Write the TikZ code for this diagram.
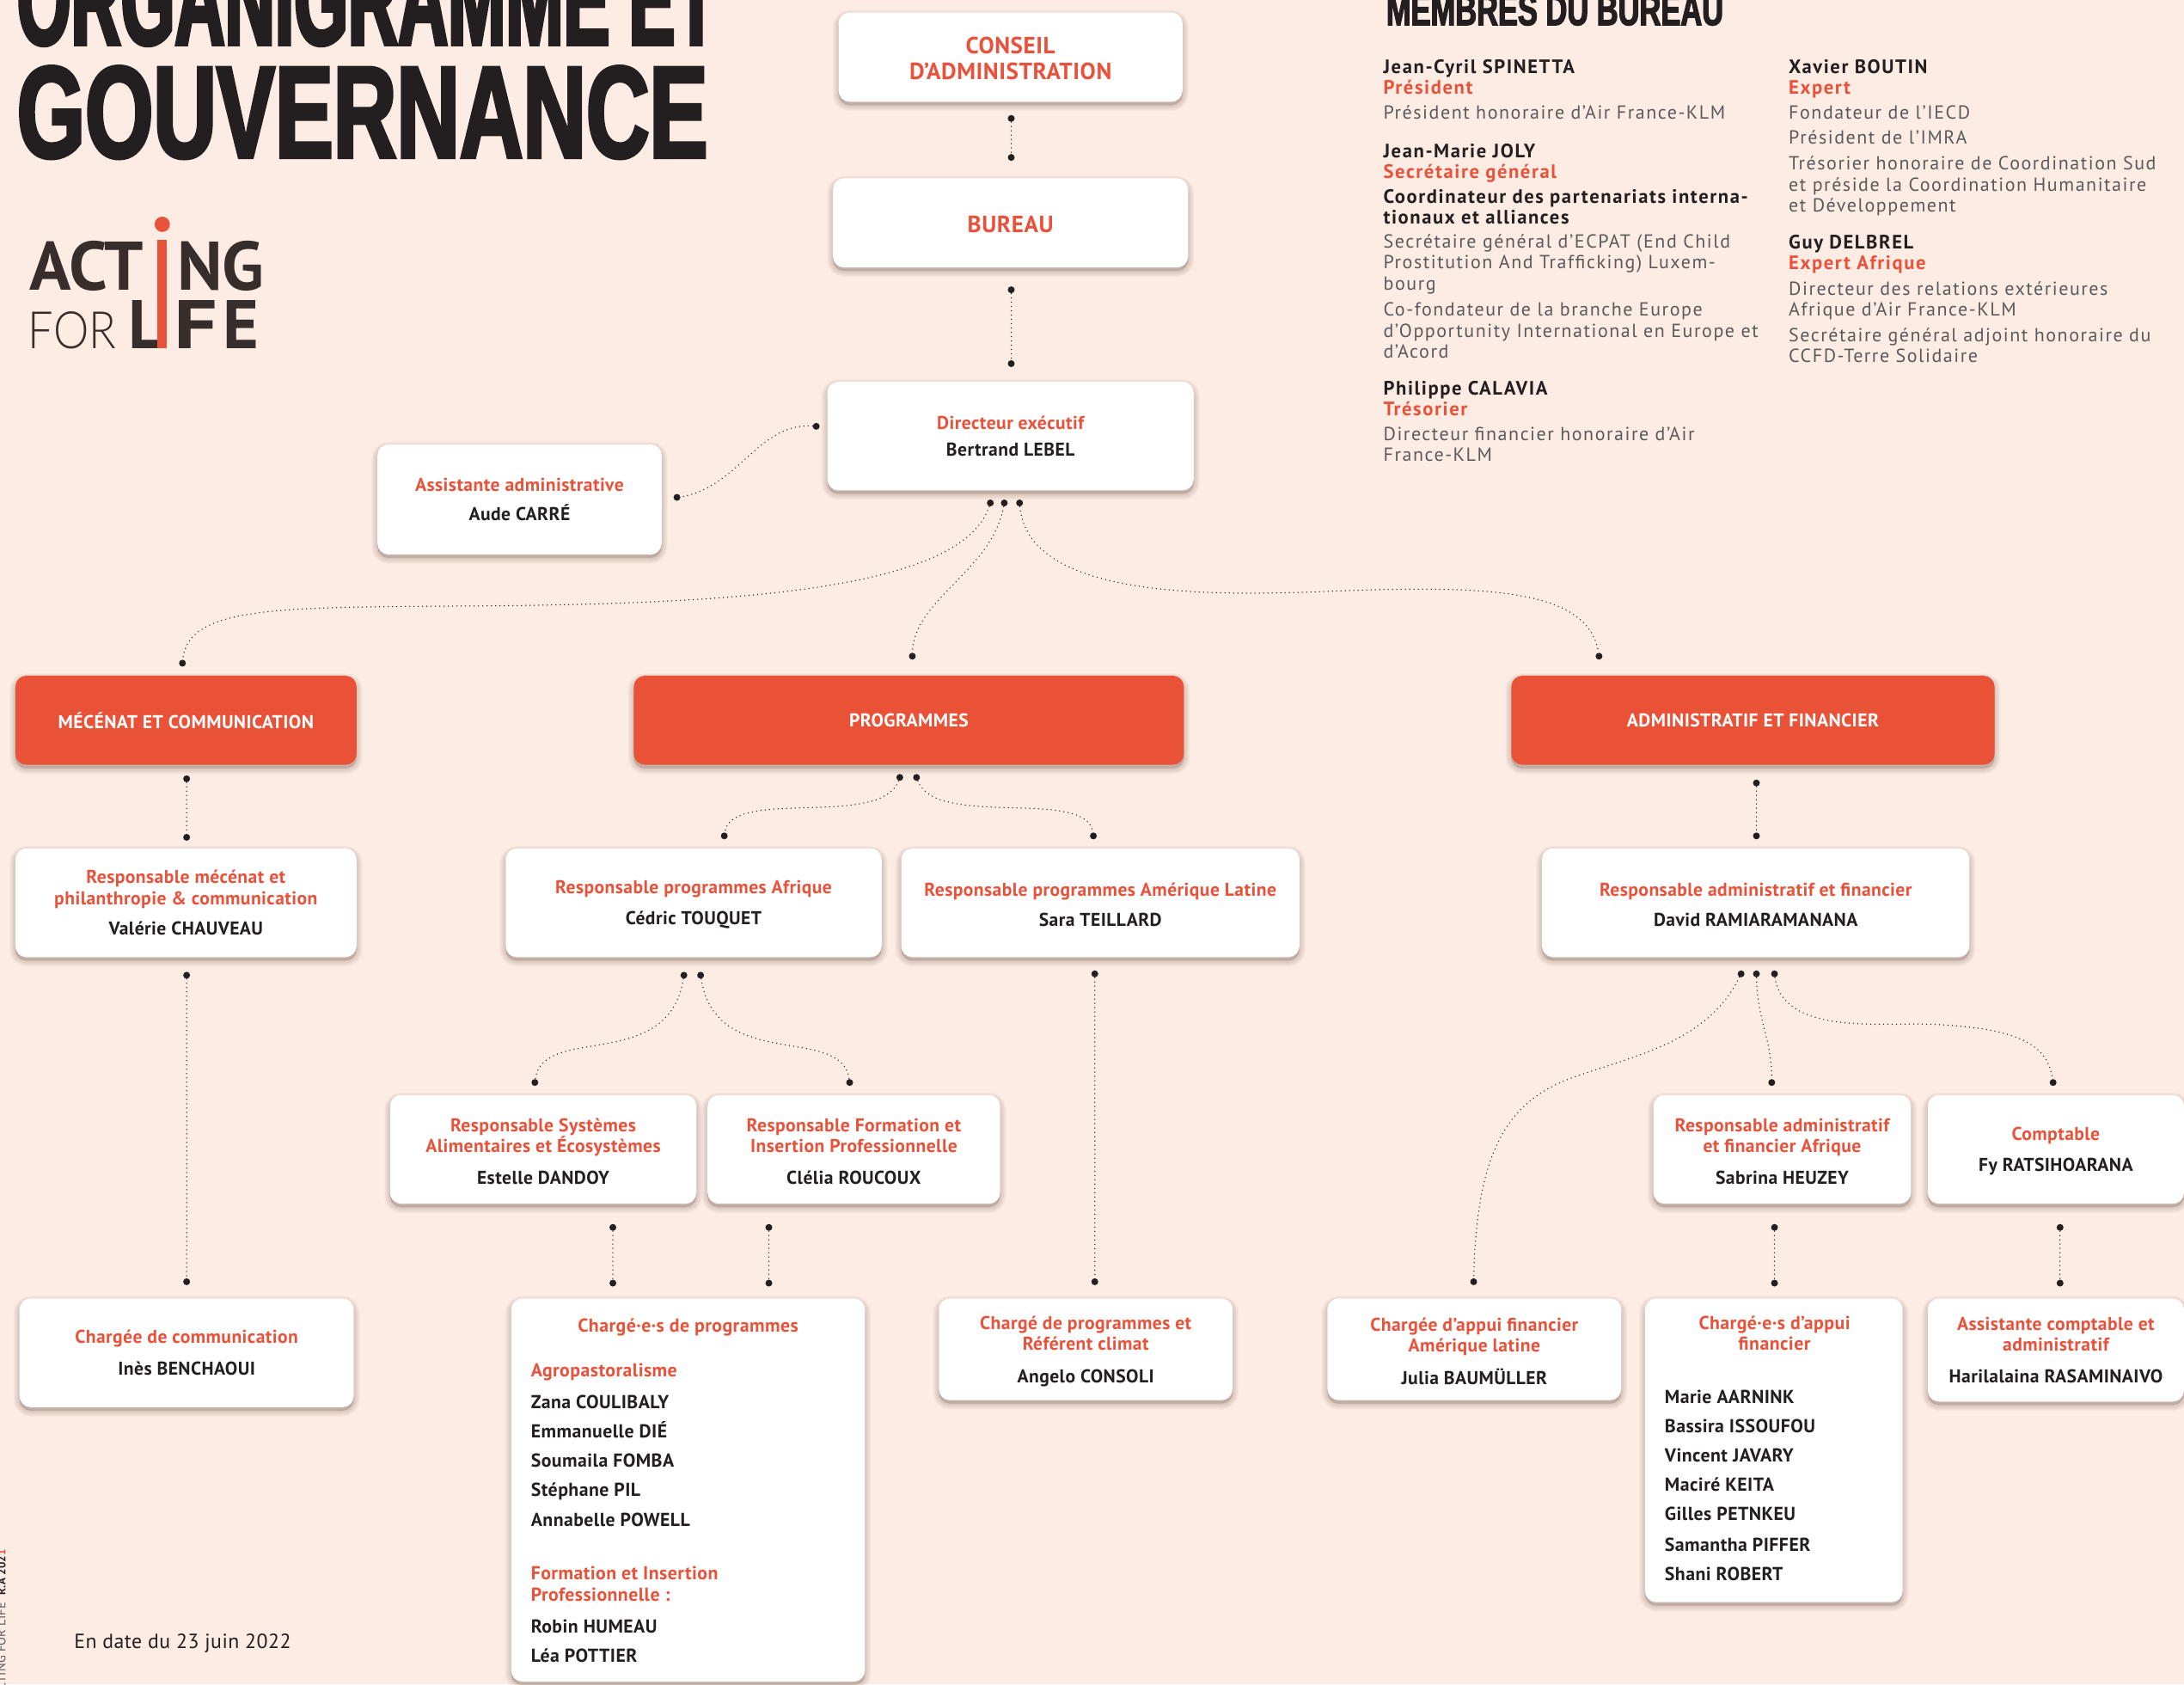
\documentclass[tikz,border=0pt]{standalone}
\usepackage{fontspec}
\setmainfont{PT Sans}[LetterSpace=2]
\newfontfamily\titlefont[FakeStretch=0.67,FakeBold=2.5]{Liberation Sans}
\newfontfamily\titlefontb[FakeStretch=0.53,FakeBold=2.5]{Liberation Sans}
\newfontfamily\logofont{PT Sans}
\newfontfamily\thinfont[FakeStretch=0.87]{Lato Light}
\newfontfamily\memfont[LetterSpace=7]{PT Sans}
\definecolor{pagebg}{HTML}{FDECE4}
\definecolor{rolered}{HTML}{E9523A}
\definecolor{boxred}{HTML}{E95237}
\definecolor{inkblack}{HTML}{231F20}
\definecolor{logobrown}{HTML}{372E2C}
\definecolor{memgray}{HTML}{5A5A5C}
\definecolor{shadowbrown}{HTML}{6A4E44}
\newcommand{\role}[1]{{\color{rolered}#1}}
\newcommand{\topstrut}{\rule{0pt}{10pt}}
\tikzset{
	wh/.style 2 args={minimum width=#1*0.81pt, minimum height=#2*0.81pt},
	shadowlayer/.style={preaction={draw=shadowbrown, fill=shadowbrown, line width=#1, opacity=0.035, transform canvas={yshift=-2pt}}},
	softshadow/.style={shadowlayer=7pt, shadowlayer=6pt, shadowlayer=5pt, shadowlayer=4pt, shadowlayer=3pt, shadowlayer=2pt, shadowlayer=1pt},
	whitebox/.style={rectangle, rounded corners=6.5pt, fill=white, softshadow, inner sep=0, align=center, text=inkblack, font=\fontsize{10.8}{12.15}\selectfont\bfseries},
	redbox/.style={whitebox, fill=boxred, text=white},
	bighead/.style={font=\fontsize{13.6}{14.6}\selectfont\bfseries, text=rolered},
	enddot/.style={circle, fill=inkblack, inner sep=0, minimum size=4pt},
	dotlink/.style={draw=inkblack, line width=0.75pt, line cap=round, dash pattern=on 0pt off 2.5pt},
	listline/.style={anchor=base west, inner sep=0, text=inkblack, font=\fontsize{10.9}{12}\selectfont\bfseries},
	listrole/.style={listline, text=rolered},
	memname/.style={anchor=base west, inner sep=0, text=inkblack, font=\fontsize{11.3}{12}\selectfont\memfont\bfseries},
	memrole/.style={memname, text=rolered},
	memtext/.style={anchor=base west, inner sep=0, text=memgray, font=\fontsize{11}{12}\selectfont\memfont},
	titleline/.style={anchor=base west, inner sep=0, text=inkblack, font=\fontsize{76}{80}\selectfont\titlefont\bfseries},
	logoheavy/.style={anchor=base west, inner sep=0, text=logobrown, font=\fontsize{40}{44}\selectfont\logofont\bfseries},
}
\begin{document}
\begin{tikzpicture}[x=0.81pt, y=-0.81pt]
	%%%%% PAGE %%%%%
	\useasboundingbox (0,0) rectangle (1568,1209);
	\clip (0,0) rectangle (1568,1209);
	\fill[pagebg] (0,0) rectangle (1568,1209);

	%%%%% TITLE AND LOGO %%%%%
	\node[titleline, font=\fontsize{76}{80}\selectfont\titlefontb\bfseries] (title1) at (12,32) {ORGANIGRAMME ET};
	\node[titleline] (title2) at (12,113) {GOUVERNANCE};
	\node[titleline, font=\fontsize{25.7}{28}\selectfont\titlefont\bfseries] (memtitle) at (995,18) {MEMBRES DU BUREAU};

	\node[logoheavy] (logoa) at (21,208) {ACT};
	\node[logoheavy] (logob) at (127,208) {NG};
	\node[logoheavy] (logoc) at (92,250) {L};
	\node[logoheavy] (logod) at (125,250) {\scalebox{1.25}[1]{F}};
	\node[logoheavy] (logoe) at (160,250) {E};
	\node[anchor=base west, inner sep=0, text=logobrown, font=\fontsize{30}{32}\selectfont\thinfont] (logof) at (20,250) {FOR};
	\fill[rolered] (113,172) rectangle (120,250);
	\fill[rolered] (116.5,161) circle (5.5);

	\node[anchor=base west, inner sep=0, text=inkblack, font=\fontsize{11.9}{13}\selectfont] (datenote) at (53,1183) {En date du 23 juin 2022};
	\node[anchor=base east, inner sep=0, rotate=90, text=memgray, font=\fontsize{7.2}{8}\selectfont] (sideline) at (4,1112) {ACTING FOR LIFE \ {\fontsize{6.5}{8}\selectfont\bfseries\color{inkblack}R.A 202\color{rolered}1}};

	%%%%% BOARD %%%%%
	\node[memname] (m1) at (993,52.5) {Jean-Cyril SPINETTA};
	\node[memrole] (m2) at (993,67.5) {Président};
	\node[memtext] (m3) at (993,85.5) {Président honoraire d’Air France-KLM};
	\node[memname] (m4) at (993,113) {Jean-Marie JOLY};
	\node[memrole] (m5) at (993,128) {Secrétaire général};
	\node[memname] (m6) at (993,146) {Coordinateur des partenariats interna-};
	\node[memname] (m7) at (993,161) {tionaux et alliances};
	\node[memtext] (m8) at (993,178) {Secrétaire général d’ECPAT (End Child};
	\node[memtext] (m9) at (993,193) {Prostitution And Trafficking) Luxem-};
	\node[memtext] (m10) at (993,208) {bourg};
	\node[memtext] (m11) at (993,227) {Co-fondateur de la branche Europe};
	\node[memtext] (m12) at (993,242) {d’Opportunity International en Europe et};
	\node[memtext] (m13) at (993,257) {d’Acord};
	\node[memname] (m14) at (993,283.5) {Philippe CALAVIA};
	\node[memrole] (m15) at (993,298.5) {Trésorier};
	\node[memtext] (m16) at (993,316) {Directeur financier honoraire d’Air};
	\node[memtext] (m17) at (993,331) {France-KLM};

	\node[memname] (n1) at (1284,52.5) {Xavier BOUTIN};
	\node[memrole] (n2) at (1284,67.5) {Expert};
	\node[memtext] (n3) at (1284,85.5) {Fondateur de l’IECD};
	\node[memtext] (n4) at (1284,103.5) {Président de l’IMRA};
	\node[memtext] (n5) at (1284,122) {Trésorier honoraire de Coordination Sud};
	\node[memtext] (n6) at (1284,137) {et préside la Coordination Humanitaire};
	\node[memtext] (n7) at (1284,152) {et Développement};
	\node[memname] (n8) at (1284,178.5) {Guy DELBREL};
	\node[memrole] (n9) at (1284,193.5) {Expert Afrique};
	\node[memtext] (n10) at (1284,212) {Directeur des relations extérieures};
	\node[memtext] (n11) at (1284,227) {Afrique d’Air France-KLM};
	\node[memtext] (n12) at (1284,245) {Secrétaire général adjoint honoraire du};
	\node[memtext] (n13) at (1284,260) {CCFD-Terre Solidaire};

	%%%%% BOXES %%%%%
	\node[whitebox, wh={247}{64}, bighead] (conseil) at (725.5,41) {\rule{0pt}{11.2pt}CONSEIL\\D’ADMINISTRATION};
	\node[whitebox, wh={255}{64}, bighead] (bureau) at (725.5,160) {\rule{0pt}{11.2pt}BUREAU};
	\node[whitebox, wh={263}{78}] (directeur) at (725.5,313) {\role{Directeur exécutif}\\[3.2pt]Bertrand LEBEL};
	\node[whitebox, wh={204}{79}] (assistante) at (373,358.5) {\role{Assistante administrative}\\[4.9pt]Aude CARRÉ};

	\node[redbox, wh={245}{64}] (mecenat) at (133.5,517) {MÉCÉNAT ET COMMUNICATION};
	\node[redbox, wh={395}{64}] (programmes) at (652.5,517) {PROGRAMMES};
	\node[redbox, wh={347}{64}] (adminfin) at (1258.5,517) {ADMINISTRATIF ET FINANCIER};

	\node[whitebox, wh={245}{78}] (respmecenat) at (133.5,648) {\role{Responsable mécénat et}\\\role{philanthropie \& communication}\\[5.7pt]Valérie CHAUVEAU};
	\node[whitebox, wh={270}{78}] (respafrique) at (498,648) {\topstrut\role{Responsable programmes Afrique}\\[5.7pt]Cédric TOUQUET};
	\node[whitebox, wh={286}{78}] (resplatine) at (790,648) {\topstrut\role{Responsable programmes Amérique Latine}\\[5.7pt]Sara TEILLARD};
	\node[whitebox, wh={307}{78}] (respadmin) at (1260.5,648) {\topstrut\role{Responsable administratif et financier}\\[5.7pt]David RAMIARAMANANA};

	\node[whitebox, wh={220}{78}] (respsys) at (390,825) {\topstrut\role{Responsable Systèmes}\\\role{Alimentaires et Écosystèmes}\\[6.5pt]Estelle DANDOY};
	\node[whitebox, wh={210}{78}] (respform) at (613,825) {\topstrut\role{Responsable Formation et}\\\role{Insertion Professionnelle}\\[6.5pt]Clélia ROUCOUX};
	\node[whitebox, wh={185}{78}] (respadminaf) at (1279.5,825) {\topstrut\role{Responsable administratif}\\\role{et financier Afrique}\\[6.5pt]Sabrina HEUZEY};
	\node[whitebox, wh={184}{78}] (comptable) at (1476,825) {\topstrut\role{Comptable}\\[5.7pt]Fy RATSIHOARANA};

	\node[whitebox, wh={240}{78}] (chargeecom) at (134,971) {\role{Chargée de communication}\\[6.5pt]Inès BENCHAOUI};
	\node[whitebox, wh={254}{275}] (chargesprog) at (494,1069.5) {};
	\node[whitebox, wh={211}{73}] (chargeclimat) at (779.5,968.5) {\topstrut\role{Chargé de programmes et}\\\role{Référent climat}\\[6.5pt]Angelo CONSOLI};
	\node[whitebox, wh={211}{73}] (chargeeappui) at (1058.5,968.5) {\topstrut\role{Chargée d’appui financier}\\\role{Amérique latine}\\[6.5pt]Julia BAUMÜLLER};
	\node[whitebox, wh={185}{218}] (chargesappui) at (1273.5,1041) {};
	\node[whitebox, wh={184}{74}] (assistcompta) at (1476,969) {\role{Assistante comptable et}\\\role{administratif}\\[6.5pt]Harilalaina RASAMINAIVO};

	%%%%% LISTS IN BOXES %%%%%
	\node[listrole, anchor=base] (p0) at (494,956) {Chargé·e·s de programmes};
	\node[listrole] (p1) at (381,988) {Agropastoralisme};
	\node[listline] (p2) at (381,1011) {Zana COULIBALY};
	\node[listline] (p3) at (381,1032) {Emmanuelle DIÉ};
	\node[listline] (p4) at (381,1053) {Soumaila FOMBA};
	\node[listline] (p5) at (381,1074) {Stéphane PIL};
	\node[listline] (p6) at (381,1095.5) {Annabelle POWELL};
	\node[listrole] (p7) at (381,1134) {Formation et Insertion};
	\node[listrole] (p8) at (381,1149) {Professionnelle :};
	\node[listline] (p9) at (381,1172) {Robin HUMEAU};
	\node[listline] (p10) at (381,1193) {Léa POTTIER};

	\node[listrole, anchor=base] (q0) at (1274,954) {Chargé·e·s d’appui};
	\node[listrole, anchor=base] (q1) at (1274,969) {financier};
	\node[listline] (q2) at (1195,1007.5) {Marie AARNINK};
	\node[listline] (q3) at (1195,1028.5) {Bassira ISSOUFOU};
	\node[listline] (q4) at (1195,1049.5) {Vincent JAVARY};
	\node[listline] (q5) at (1195,1070.5) {Maciré KEITA};
	\node[listline] (q6) at (1195,1091.5) {Gilles PETNKEU};
	\node[listline] (q7) at (1195,1113.5) {Samantha PIFFER};
	\node[listline] (q8) at (1195,1134.5) {Shani ROBERT};

	%%%%% END DOTS %%%%%
	\node[enddot] (d1) at (726,85) {};
	\node[enddot] (d2) at (726,113) {};
	\node[enddot] (d3) at (726,208) {};
	\node[enddot] (d4) at (726,261) {};
	\node[enddot] (d5) at (586,306) {};
	\node[enddot] (d6) at (486,357) {};
	\node[enddot] (d7) at (711,361) {};
	\node[enddot] (d8) at (721,361) {};
	\node[enddot] (d9) at (732,361) {};
	\node[enddot] (d10) at (131,476) {};
	\node[enddot] (d11) at (655,471) {};
	\node[enddot] (d12) at (1148,471) {};
	\node[enddot] (d13) at (134,559) {};
	\node[enddot] (d14) at (134,601) {};
	\node[enddot] (d15) at (646,558) {};
	\node[enddot] (d16) at (658,558) {};
	\node[enddot] (d17) at (520,600) {};
	\node[enddot] (d18) at (785,600) {};
	\node[enddot] (d19) at (1261,562) {};
	\node[enddot] (d20) at (1261,600) {};
	\node[enddot] (d21) at (134,700) {};
	\node[enddot] (d22) at (134,920) {};
	\node[enddot] (d23) at (491,700) {};
	\node[enddot] (d24) at (503,700) {};
	\node[enddot] (d25) at (384,777) {};
	\node[enddot] (d26) at (610,777) {};
	\node[enddot] (d27) at (786,699) {};
	\node[enddot] (d28) at (786,920) {};
	\node[enddot] (d29) at (1250,699) {};
	\node[enddot] (d30) at (1261,699) {};
	\node[enddot] (d31) at (1274,699) {};
	\node[enddot] (d32) at (1058,920) {};
	\node[enddot] (d33) at (1272,777) {};
	\node[enddot] (d34) at (1474,777) {};
	\node[enddot] (d35) at (440,881) {};
	\node[enddot] (d36) at (440,921) {};
	\node[enddot] (d37) at (552,881) {};
	\node[enddot] (d38) at (552,921) {};
	\node[enddot] (d39) at (1274,881) {};
	\node[enddot] (d40) at (1274,921) {};
	\node[enddot] (d41) at (1479,881) {};
	\node[enddot] (d42) at (1479,921) {};

	%%%%% LINKS %%%%%
	\draw[dotlink] (d1) -- (d2);
	\draw[dotlink] (d3) -- (d4);
	\draw[dotlink] (d5) .. controls (545,303) and (530,350) .. (d6);
	\draw[dotlink] (d7) .. controls (690,425) and (520,434) .. (330,435) .. controls (200,436) and (135,435) .. (d10);
	\draw[dotlink] (d8) .. controls (712,410) and (656,430) .. (d11);
	\draw[dotlink] (d9) .. controls (738,425) and (850,428) .. (940,425) .. controls (1060,420) and (1140,420) .. (d12);
	\draw[dotlink] (d13) -- (d14);
	\draw[dotlink] (d15) .. controls (632,595) and (525,565) .. (d17);
	\draw[dotlink] (d16) .. controls (672,595) and (780,565) .. (d18);
	\draw[dotlink] (d19) -- (d20);
	\draw[dotlink] (d21) -- (d22);
	\draw[dotlink] (d23) .. controls (480,770) and (390,735) .. (d25);
	\draw[dotlink] (d24) .. controls (514,770) and (604,735) .. (d26);
	\draw[dotlink] (d27) -- (d28);
	\draw[dotlink] (d29) .. controls (1225,750) and (1170,758) .. (1125,775) .. controls (1080,793) and (1060,830) .. (d32);
	\draw[dotlink] (d30) .. controls (1262,735) and (1272,745) .. (d33);
	\draw[dotlink] (d31) .. controls (1280,740) and (1340,735) .. (1380,735) .. controls (1450,737) and (1470,750) .. (d34);
	\draw[dotlink] (d35) -- (d36);
	\draw[dotlink] (d37) -- (d38);
	\draw[dotlink] (d39) -- (d40);
	\draw[dotlink] (d41) -- (d42);
\end{tikzpicture}
\end{document}
